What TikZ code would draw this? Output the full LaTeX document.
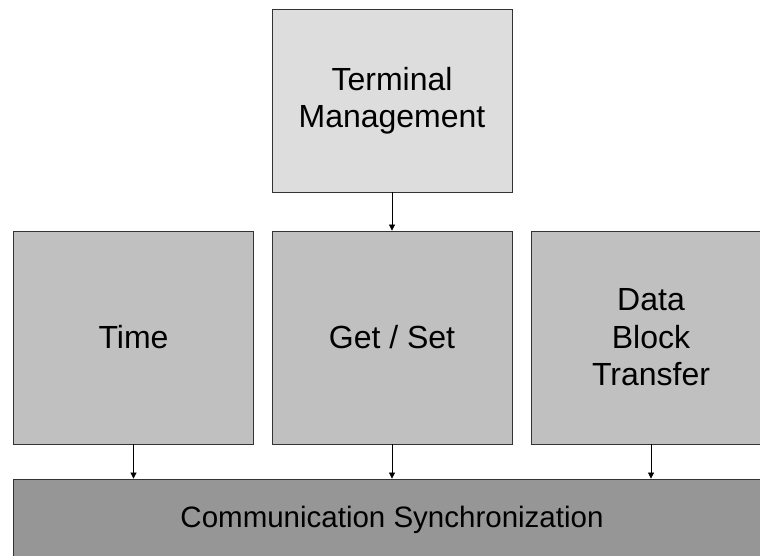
\documentclass[tikz,border=0pt]{standalone}
\usepackage{fontspec}
\setmainfont{Liberation Sans}
\usetikzlibrary{arrows.meta,positioning}

\definecolor{tmgray}{HTML}{DDDDDD}
\definecolor{svgray}{HTML}{C0C0C0}
\definecolor{cmgray}{HTML}{969696}

\begin{document}
\begin{tikzpicture}[
  x=1pt, y=-1pt,
  top/.style={draw=black!80, fill=tmgray, rectangle, line width=0.8pt, inner sep=0pt,
    minimum width=240pt, minimum height=183pt, align=center, font=\fontsize{32}{36.5}\selectfont},
  svc/.style={draw=black!80, fill=svgray, rectangle, line width=0.8pt, inner sep=0pt,
    minimum width=240pt, minimum height=213pt, align=center, font=\fontsize{32}{37.5}\selectfont},
  base/.style={draw=black!80, fill=cmgray, rectangle, line width=0.8pt, inner sep=0pt,
    minimum width=758pt, minimum height=82pt, align=center, font=\fontsize{29.5}{34}\selectfont},
  ar/.style={-{Triangle[width=6pt,length=6pt]}, line width=0.7pt},
]
\clip (0,0) rectangle (760,556);
\useasboundingbox (0,0) rectangle (760,556);

%==== Baris 1: Terminal Management ====
\node[top] (tm) at (392, 100.5) {Terminal\\Management};

%==== Baris 2: Services ====
\node[svc] (time) at (133.5, 337.5) {Time};
\node[svc] (gs)   at (392, 337.5) {Get / Set};
\node[svc] (dbt)  at (651, 337.5) {Data\\Block\\Transfer};
\draw[ar] (tm.south) -- (gs.north);

%==== Baris 3: Communication Synchronization ====
\node[base] (cs) at (392, 520) {Communication Synchronization};
\draw[ar] (time.south) -- (time.south |- cs.north);
\draw[ar] (gs.south)   -- (gs.south |- cs.north);
\draw[ar] (dbt.south)  -- (dbt.south |- cs.north);

\end{tikzpicture}
\end{document}
